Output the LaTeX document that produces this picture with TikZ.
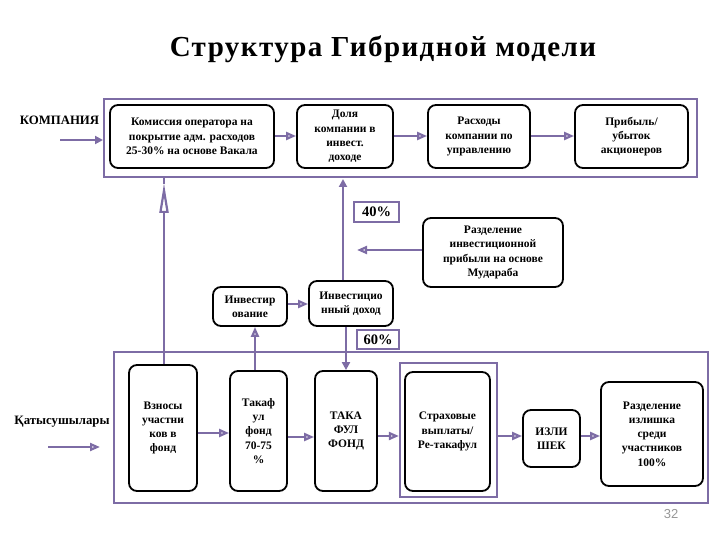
\documentclass[tikz,border=0pt]{standalone}
\usepackage{fontspec}
\setmainfont{Liberation Serif}
\newfontfamily\numfont{Liberation Sans}
\usetikzlibrary{arrows.meta,calc}
\definecolor{pur}{RGB}{125,108,165}
\definecolor{pgray}{RGB}{150,150,150}
\tikzset{
  box/.style={draw=black, line width=1.8pt, rounded corners=8pt, align=center, inner sep=1pt,
    font=\bfseries\fontsize{11.5}{14.3}\selectfont},
  frm/.style={draw=pur, line width=2.2pt, inner sep=0pt},
  pct/.style={draw=pur, line width=2pt, inner sep=0pt, font=\bfseries\fontsize{14.5}{16}\selectfont},
  lnk/.style={draw=pur, line width=2.2pt},
  ho/.style={lnk, -{Triangle[open, length=10pt, width=8pt]}},
  hf/.style={lnk, -{Triangle[length=8pt, width=8pt]}},
  lbl/.style={font=\bfseries\fontsize{12.8}{14}\selectfont, inner sep=0pt}
}
\begin{document}
\begin{tikzpicture}[x=1pt,y=-1pt]
\useasboundingbox (0,0) rectangle (720,540);
% title
\node[font=\bfseries\fontsize{29}{32}\selectfont\addfontfeatures{LetterSpace=5}, inner sep=0pt] (title) at (383,49) {Структура Гибридной модели};
% frames
\node[frm, minimum width=593pt, minimum height=78pt] (topf) at (400.5,138) {};
\node[frm, minimum width=594pt, minimum height=151pt] (botf) at (411,427.5) {};
\node[frm, minimum width=97pt, minimum height=134pt] (b4f) at (448.5,430) {};
% top row
\node[box, minimum width=164pt, minimum height=63pt] (t1) at (192,136.5) {Комиссия оператора на\\покрытие адм. расходов\\25-30\% на основе Вакала};
\node[box, minimum width=96pt, minimum height=63pt] (t2) at (345,136.5) {Доля\\компании в\\инвест.\\доходе};
\node[box, minimum width=102pt, minimum height=63pt] (t3) at (479,136.5) {Расходы\\компании по\\управлению};
\node[box, minimum width=113pt, minimum height=63pt] (t4) at (631.5,136.5) {Прибыль/\\убыток\\акционеров};
% labels
\node[lbl] (komp) at (59.5,120) {КОМПАНИЯ};
\node[lbl] (kat) at (62,422) {Қатысушылары};
\coordinate (ka1) at (60,140);
\coordinate (ka2) at (103,140);
\coordinate (pa1) at (48,447);
\coordinate (pa2) at (100,447);
% middle
\node[box, minimum width=74pt, minimum height=39pt] (inv) at (250,306.5) {Инвестир\\ование};
\node[box, minimum width=84pt, minimum height=45pt] (invd) at (351,303.5) {Инвестицио\\нный доход};
\node[box, minimum width=140pt, minimum height=69pt] (mud) at (493,252.5) {Разделение\\инвестиционной\\прибыли на основе\\Мудараба};
\node[pct, minimum width=45pt, minimum height=20pt] (p40) at (376.5,212) {40\%};
\node[pct, minimum width=42pt, minimum height=19pt] (p60) at (378,339.5) {60\%};
% bottom row
\node[box, minimum width=68pt, minimum height=126pt] (b1) at (163,428) {Взносы\\участни\\ков в\\фонд};
\node[box, minimum width=57pt, minimum height=120pt] (b2) at (258.5,431) {Такаф\\ул\\фонд\\70-75\\\%};
\node[box, minimum width=62pt, minimum height=120pt] (b3) at (346,431) {ТАКА\\ФУЛ\\ФОНД};
\node[box, minimum width=85pt, minimum height=119pt] (b4) at (447.5,431.5) {Страховые\\выплаты/\\Ре-такафул};
\node[box, minimum width=57pt, minimum height=57pt] (b5) at (551.5,438.5) {ИЗЛИ\\ШЕК};
\node[box, minimum width=102pt, minimum height=104pt] (b6) at (652,434) {Разделение\\излишка\\среди\\участников\\100\%};
\node[font=\numfont\fontsize{13}{15}\selectfont, text=pgray, inner sep=0pt] (pg) at (671,514) {32};
% connectors top
\draw[ho] (t1.east |- 0,136) -- (t2.west |- 0,136);
\draw[ho] (t2.east |- 0,136) -- (t3.west |- 0,136);
\draw[ho] (t3.east |- 0,136) -- (t4.west |- 0,136);
\draw[hf] (ka1) -- (ka2);
\draw[ho] (pa1) -- (pa2);
% bottom connectors
\draw[ho] (b1.east |- 0,433) -- (b2.west |- 0,433);
\draw[ho] (b2.east |- 0,437) -- (b3.west |- 0,437);
\draw[ho] (b3.east |- 0,436) -- (b4f.west |- 0,436);
\draw[ho] (b4f.east |- 0,436) -- (b5.west |- 0,436);
\draw[ho] (b5.east |- 0,436) -- (b6.west |- 0,436);
% vertical connectors
\draw[lnk, -{Triangle[open, length=30pt, width=9pt]}] (b1.north -| 164,0) -- (164,183);
\draw[lnk] (164,184) -- (topf.south -| 164,0);
\draw[ho] (b2.north -| 255,0) -- (inv.south -| 255,0);
\draw[ho] (inv.east |- 0,304) -- (invd.west |- 0,304);
\draw[hf] (invd.north -| 343,0) -- (343,179);
\draw[ho] (mud.west |- 0,250) -- (357,250);
\draw[hf] (invd.south -| 346,0) -- (b3.north -| 346,0);
\end{tikzpicture}
\end{document}
